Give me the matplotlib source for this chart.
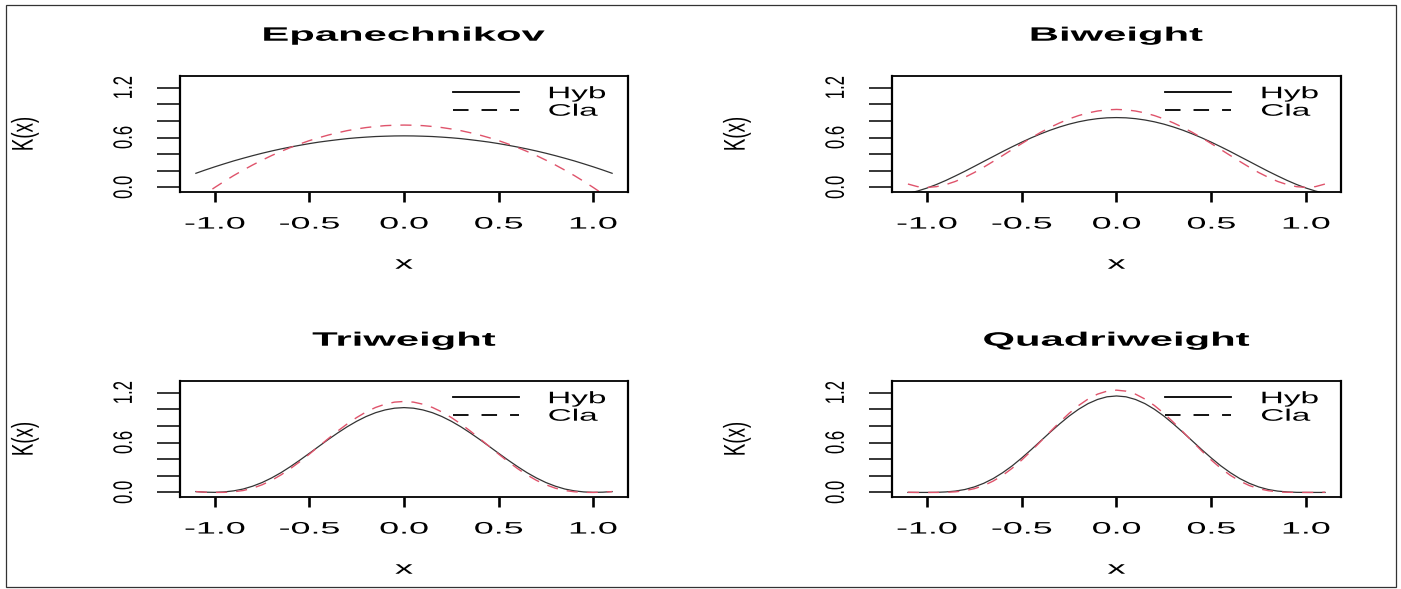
import matplotlib
matplotlib.use("Agg")
import matplotlib.pyplot as plt
from matplotlib import patheffects
from matplotlib.transforms import Affine2D
from matplotlib.lines import Line2D
from matplotlib.patches import Rectangle

plt.rcParams['font.family'] = ['Liberation Sans', 'DejaVu Sans']

# values, x from -1.1 to 1.1 in steps of 0.05
x = [-1.1, -1.05, -1.0, -0.95, -0.9, -0.85, -0.8, -0.75, -0.7, -0.65, -0.6,
     -0.55, -0.5, -0.45, -0.4, -0.35, -0.3, -0.25, -0.2, -0.15, -0.1, -0.05,
     0.0, 0.05, 0.1, 0.15, 0.2, 0.25, 0.3, 0.35, 0.4, 0.45, 0.5, 0.55, 0.6,
     0.65, 0.7, 0.75, 0.8, 0.85, 0.9, 0.95, 1.0, 1.05, 1.1]

epa_hyb = [0.170, 0.210, 0.248, 0.284, 0.319, 0.351, 0.382, 0.411, 0.438, 0.463, 0.486,
           0.507, 0.527, 0.545, 0.560, 0.574, 0.587, 0.597, 0.605, 0.612, 0.616, 0.619,
           0.620, 0.619, 0.616, 0.612, 0.605, 0.597, 0.587, 0.574, 0.560, 0.545, 0.527,
           0.507, 0.486, 0.463, 0.438, 0.411, 0.382, 0.351, 0.319, 0.284, 0.248, 0.210, 0.170]
epa_cla = [-0.158, -0.077, 0.000, 0.073, 0.143, 0.208, 0.270, 0.328, 0.383, 0.433, 0.480,
           0.523, 0.563, 0.598, 0.630, 0.658, 0.683, 0.703, 0.720, 0.733, 0.743, 0.748,
           0.750, 0.748, 0.743, 0.733, 0.720, 0.703, 0.683, 0.658, 0.630, 0.598, 0.563,
           0.523, 0.480, 0.433, 0.383, 0.328, 0.270, 0.208, 0.143, 0.073, 0.000, -0.077, -0.158]

bi_hyb = [-0.072, -0.044, -0.008, 0.035, 0.084, 0.138, 0.194, 0.253, 0.313, 0.372, 0.432,
          0.489, 0.544, 0.596, 0.644, 0.688, 0.727, 0.761, 0.789, 0.811, 0.827, 0.837,
          0.840, 0.837, 0.827, 0.811, 0.789, 0.761, 0.727, 0.688, 0.644, 0.596, 0.544,
          0.489, 0.432, 0.372, 0.313, 0.253, 0.194, 0.138, 0.084, 0.035, -0.008, -0.044, -0.072]
bi_cla = [0.041, 0.010, 0.000, 0.009, 0.034, 0.072, 0.122, 0.179, 0.244, 0.313, 0.384,
          0.456, 0.527, 0.596, 0.662, 0.722, 0.776, 0.824, 0.864, 0.896, 0.919, 0.933,
          0.938, 0.933, 0.919, 0.896, 0.864, 0.824, 0.776, 0.722, 0.662, 0.596, 0.527,
          0.456, 0.384, 0.313, 0.244, 0.179, 0.122, 0.072, 0.034, 0.009, 0.000, 0.010, 0.041]

tri_hyb = [0.010, 0.003, 0.001, 0.006, 0.019, 0.041, 0.075, 0.119, 0.174, 0.238, 0.311,
           0.389, 0.471, 0.554, 0.637, 0.716, 0.790, 0.856, 0.913, 0.959, 0.992, 1.013,
           1.020, 1.013, 0.992, 0.959, 0.913, 0.856, 0.790, 0.716, 0.637, 0.554, 0.471,
           0.389, 0.311, 0.238, 0.174, 0.119, 0.075, 0.041, 0.019, 0.006, 0.001, 0.003, 0.010]
tri_cla = [0.010, 0.003, 0.000, 0.001, 0.008, 0.023, 0.051, 0.092, 0.145, 0.211, 0.287,
           0.371, 0.461, 0.555, 0.648, 0.739, 0.824, 0.901, 0.968, 1.022, 1.061, 1.086,
           1.094, 1.086, 1.061, 1.022, 0.968, 0.901, 0.824, 0.739, 0.648, 0.555, 0.461,
           0.371, 0.287, 0.211, 0.145, 0.092, 0.051, 0.023, 0.008, 0.001, 0.000, 0.003, 0.010]

quad_hyb = [0.000, 0.000, 0.000, 0.001, 0.006, 0.016, 0.035, 0.066, 0.110, 0.167, 0.238,
            0.320, 0.414, 0.514, 0.619, 0.723, 0.824, 0.918, 1.000, 1.068, 1.118, 1.150,
            1.160, 1.150, 1.118, 1.068, 1.000, 0.918, 0.824, 0.723, 0.619, 0.514, 0.414,
            0.320, 0.238, 0.167, 0.110, 0.066, 0.035, 0.016, 0.006, 0.001, 0.000, 0.000, 0.000]
quad_cla = [0.002, 0.000, 0.000, 0.000, 0.002, 0.007, 0.021, 0.045, 0.083, 0.137, 0.206,
            0.291, 0.389, 0.498, 0.613, 0.730, 0.844, 0.951, 1.045, 1.123, 1.182, 1.218,
            1.230, 1.218, 1.182, 1.123, 1.045, 0.951, 0.844, 0.730, 0.613, 0.498, 0.389,
            0.291, 0.206, 0.137, 0.083, 0.045, 0.021, 0.007, 0.002, 0.000, 0.000, 0.000, 0.002]

titles = ["Epanechnikov", "Biweight", "Triweight", "Quadriweight"]
hyb_series = [epa_hyb, bi_hyb, tri_hyb, quad_hyb]
cla_series = [epa_cla, bi_cla, tri_cla, quad_cla]
legend_labels = ["Hyb", "Cla"]

xticks = [-1.0, -0.5, 0.0, 0.5, 1.0]
xticklabels = ["-1.0", "-0.5", "0.0", "0.5", "1.0"]
yticks = [0.0, 0.2, 0.4, 0.6, 0.8, 1.0, 1.2]
yticklabels = ["0.0", "", "", "0.6", "", "", "1.2"]


class Stretch(patheffects.AbstractPathEffect):
    # the source picture is squashed sideways, so widen the glyphs
    def __init__(self, sx, anchor="center"):
        super().__init__()
        self.sx = sx
        self.anchor = anchor

    def draw_path(self, renderer, gc, tpath, affine, rgbFace=None):
        ext = tpath.get_extents(affine)
        if self.anchor == "left":
            cx = ext.x0
        else:
            cx = 0.5 * (ext.x0 + ext.x1)
        aff = affine + Affine2D().translate(-cx, 0).scale(self.sx, 1).translate(cx, 0)
        renderer.draw_path(gc, tpath, aff, rgbFace)


W, H = 1401, 589
fig = plt.figure(figsize=(W / 100, H / 100), dpi=100)

# panel boxes in pixels: left, right, top, bottom
boxes = [(180, 628, 76, 192), (892, 1341, 76, 192),
         (180, 628, 381, 497), (892, 1341, 381, 497)]

for i in range(4):
    l, r, t, b = boxes[i]
    ax = fig.add_axes([l / W, 1 - b / H, (r - l) / W, (b - t) / H])
    ax.plot(x, hyb_series[i], color='#333333', lw=0.9)
    ax.plot(x, cla_series[i], color='#DF536B', lw=1.0, ls=(0, (8, 6.5)))
    ax.set_xlim(-1.184, 1.184)
    ax.set_ylim(-0.055, 1.34)

    ax.set_xticks(xticks, xticklabels)
    ax.set_yticks(yticks, yticklabels)
    ax.tick_params(axis='x', direction='out', length=7.2, width=1.9, pad=10.5, labelsize=12)
    ax.tick_params(axis='y', direction='out', length=16.5, width=1.1, pad=18.5,
                   labelsize=12, labelrotation=90)
    for s in ['left', 'right']:
        ax.spines[s].set_linewidth(1.6)
    for s in ['top', 'bottom']:
        ax.spines[s].set_linewidth(1.3)

    ttl = ax.set_title(titles[i], fontsize=14, fontweight='bold', pad=25.4)
    ttl.set_path_effects([Stretch(2.15)])
    xl = ax.set_xlabel("x", fontsize=13, labelpad=17.4)
    xl.set_path_effects([Stretch(2.0)])
    yl = ax.set_ylabel("K(x)", fontsize=13.5, labelpad=59.5)
    yl.set_path_effects([Stretch(1.6)])

    for lab in ax.get_xticklabels():
        lab.set_path_effects([Stretch(2.15)])
    for lab in ax.get_yticklabels():
        lab.set_va('center')
        lab.set_path_effects([Stretch(1.6)])

    handles = [Line2D([], [], color='black', lw=1.3),
               Line2D([], [], color='black', lw=1.3, ls=(0, (8.6, 7.2)))]
    leg = ax.legend(handles, legend_labels, loc='upper left', bbox_to_anchor=(0.6087, 0.912),
                    frameon=False, borderpad=0, borderaxespad=0, handlelength=3.95,
                    handletextpad=1.8, labelspacing=0.15, fontsize=12)
    for t in leg.get_texts():
        t.set_path_effects([Stretch(2.0, "left")])

fig.patches.append(Rectangle((6 / W, 1 - 587 / H), 1390 / W, 582 / H, transform=fig.transFigure,
                             fill=False, edgecolor='#333333', lw=0.9))

fig.savefig("out.png", dpi=100)
